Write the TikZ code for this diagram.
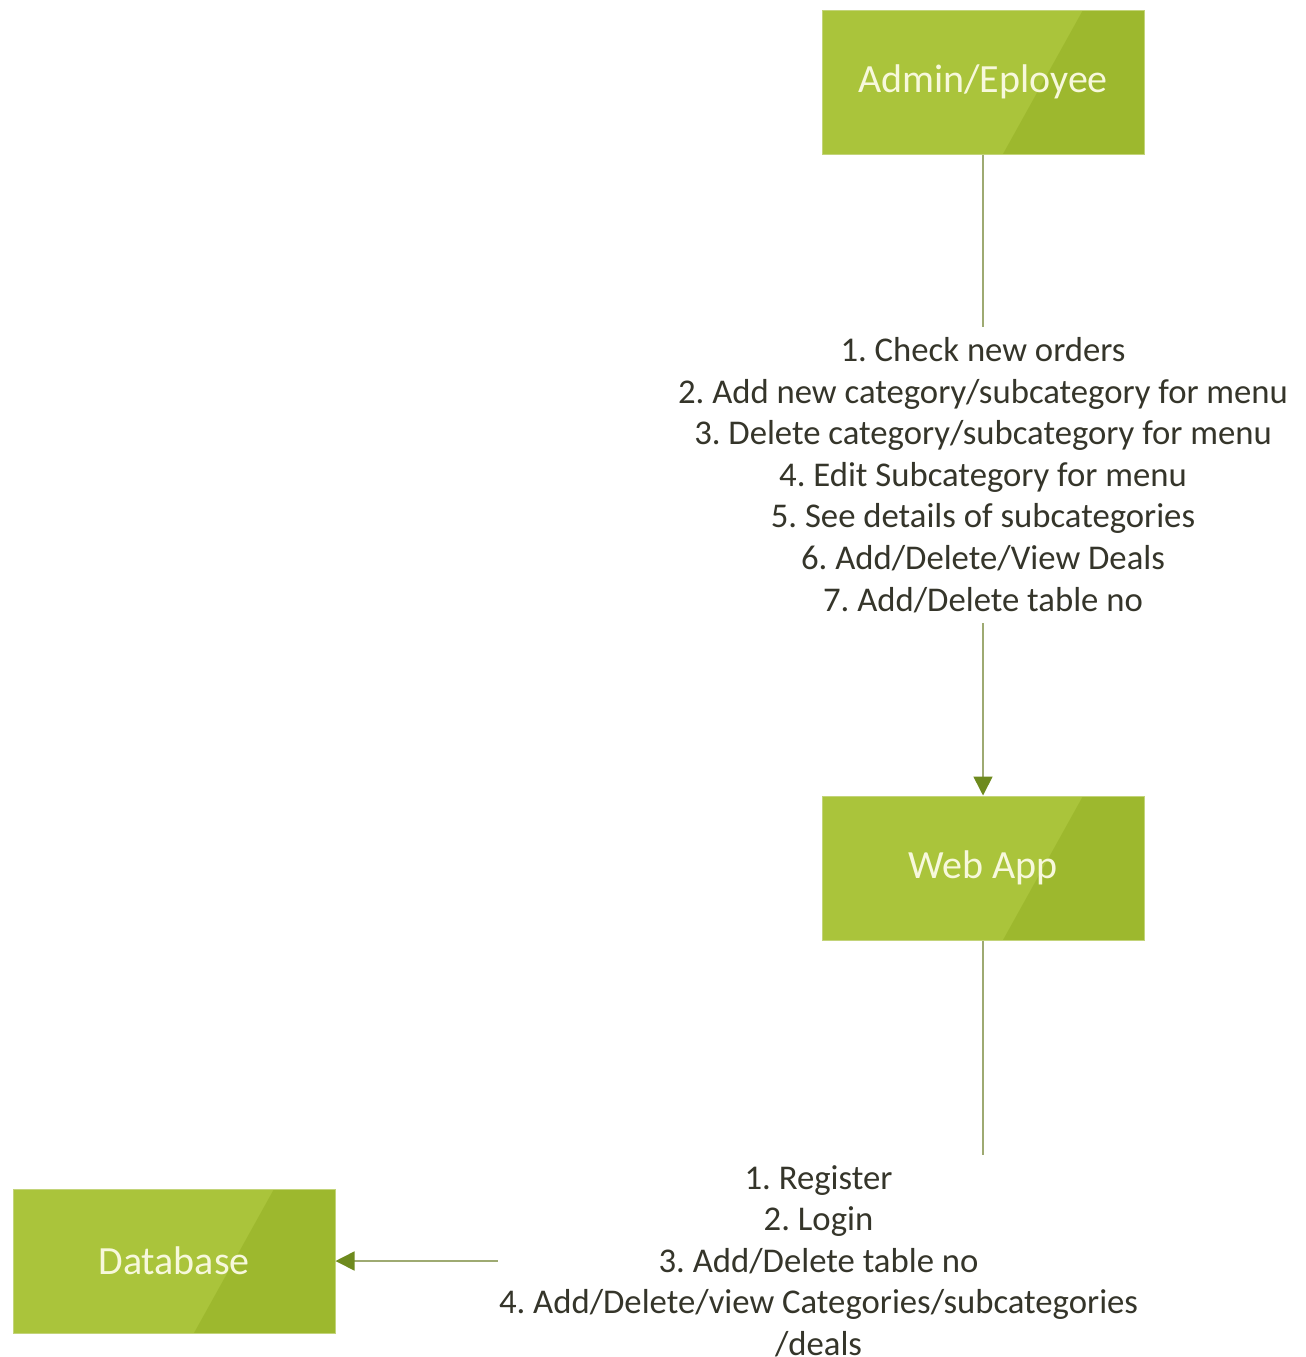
\documentclass[tikz,border=0pt]{standalone}
\usepackage{fontspec}
\setmainfont{Carlito}
\usetikzlibrary{arrows.meta}
\frenchspacing
\definecolor{boxgreen}{HTML}{AAC43B}
\definecolor{boxdark}{HTML}{9DB82E}
\definecolor{boxedge}{HTML}{C3D47A}
\definecolor{boxtext}{HTML}{F7F8DC}
\definecolor{linecol}{HTML}{9EAA72}
\definecolor{tipcol}{HTML}{6E8A1E}
\definecolor{lbltext}{HTML}{35352A}
\tikzset{
  block/.style={minimum width=322pt, minimum height=144pt, inner sep=0pt,
    text=boxtext, font=\fontsize{40}{46}\selectfont,
    path picture={
      \fill[boxgreen] (path picture bounding box.south west) rectangle (path picture bounding box.north east);
      \fill[boxdark] ([xshift=261pt]path picture bounding box.north west) -- (path picture bounding box.north east)
        -- (path picture bounding box.south east) -- ([xshift=181pt]path picture bounding box.south west) -- cycle;
    },
    draw=boxedge, line width=1pt},
  conn/.style={draw=linecol, line width=1.6pt,
    -{Triangle[length=19pt, width=19pt, color=tipcol]}},
  lbl/.style={fill=white, text=lbltext, align=center, inner xsep=1pt, inner ysep=10pt,
    font=\fontsize{34.7}{41.6}\selectfont}
}
\begin{document}
\begin{tikzpicture}[x=1pt, y=-1pt]
  \useasboundingbox[fill=white] (0,0) rectangle (1306,1357);

  \node[block] (admin) at (983,82) {Admin/Eployee};
  \node[block] (web) at (983,868) {Web App};
  \node[block] (db) at (174,1261) {Database};

  \draw[conn] (admin.south) -- node[lbl] (adminops) {1. Check new orders\\
    2. Add new category/subcategory for menu\\
    3. Delete category/subcategory for menu\\
    4. Edit Subcategory for menu\\
    5. See details of subcategories\\
    6. Add/Delete/View Deals\\
    7. Add/Delete table no} (web.north);

  \draw[conn] (web.south) |- node[lbl, pos=0.627] (webops) {1. Register\\
    2. Login\\
    3. Add/Delete table no\\
    4. Add/Delete/view Categories/subcategories\\
    /deals} (db.east);
\end{tikzpicture}
\end{document}
